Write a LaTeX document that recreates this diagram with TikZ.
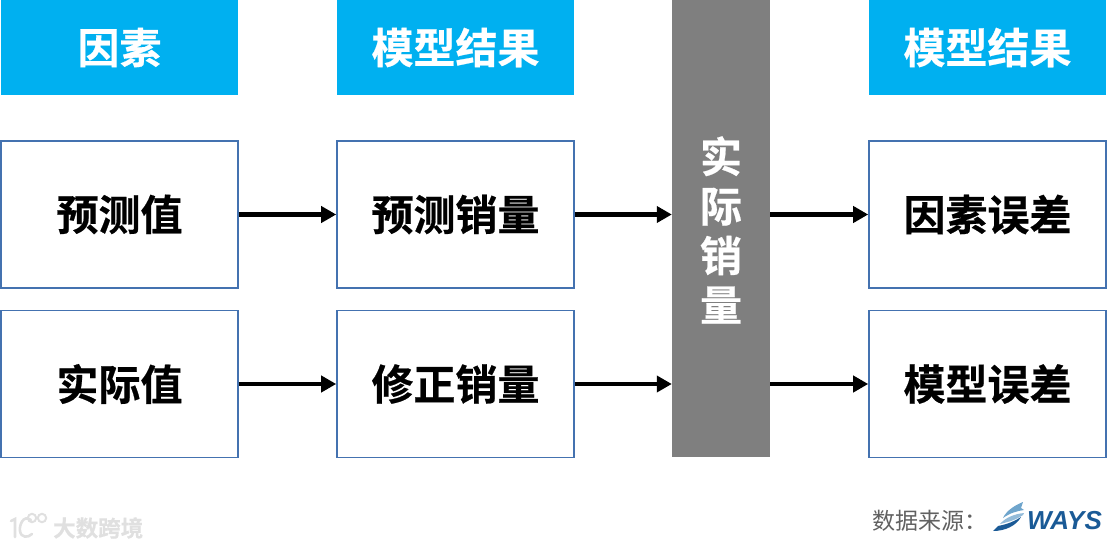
\documentclass[tikz,border=0pt]{standalone}
\usepackage{fontspec}
\setmainfont{Noto Sans CJK SC}[BoldFont={Noto Sans CJK SC Bold},BoldFeatures={FakeBold=0.5}]
\newfontfamily\latinbold{Liberation Sans}[BoldFeatures={FakeBold=0.8}]
\usetikzlibrary{arrows.meta}
\definecolor{headcyan}{HTML}{00B0F0}
\definecolor{boxblue}{HTML}{4472B0}
\definecolor{midgray}{HTML}{7F7F7F}
\definecolor{waysdark}{HTML}{1A5A96}
\definecolor{wayslight}{HTML}{6FA5CC}
\definecolor{wmgray}{HTML}{E0E0E0}
\tikzset{
 x=1pt,y=-1pt,
 headbox/.style={fill=headcyan,draw=none,minimum width=237pt,minimum height=95pt,inner sep=0pt,text=white,font=\fontsize{42}{42}\selectfont\bfseries},
 itembox/.style={fill=white,draw=boxblue,line width=1.6pt,minimum width=237pt,minimum height=147pt,inner sep=0pt,text=black,font=\fontsize{42}{42}\selectfont\bfseries},
 conn/.style={line width=4.4pt,-{Triangle[length=15pt,width=16pt]}},
 wm/.style={text=wmgray,inner sep=0pt,font=\fontsize{22.5}{22.5}\selectfont\bfseries},
 wmline/.style={draw=wmgray,line width=2.6pt,line cap=round},
 wmsmall/.style={draw=wmgray,line width=2pt},
}
\begin{document}
\begin{tikzpicture}
\useasboundingbox (0,0) rectangle (1107,548);
\node[headbox] (h1) at (119.5,47.5) {因素};
\node[headbox] (h2) at (455.5,47.5) {模型结果};
\node[headbox] (h3) at (987.5,47.5) {模型结果};
\node[itembox] (a1) at (119.5,214.5) {预测值};
\node[itembox] (a2) at (119.5,384) {实际值};
\node[itembox] (b1) at (455.5,214.5) {预测销量};
\node[itembox] (b2) at (455.5,384) {修正销量};
\node[itembox] (d1) at (987.5,214.5) {因素误差};
\node[itembox] (d2) at (987.5,384) {模型误差};
\node[fill=midgray,minimum width=98pt,minimum height=457pt,inner sep=0pt] (real) at (721,228.5) {};
\node[text=white,font=\fontsize{42}{49.5}\selectfont\bfseries,align=center,inner sep=0pt] (realtxt) at (721,230) {实\\际\\销\\量};
\draw[conn] (a1.east) -- (b1.west);
\draw[conn] (a2.east) -- (b2.west);
\draw[conn] (b1.east) -- (real.west |- b1.east);
\draw[conn] (b2.east) -- (real.west |- b2.east);
\draw[conn] (real.east |- d1.west) -- (d1.west);
\draw[conn] (real.east |- d2.west) -- (d2.west);
% source line
\node[text=black!62,inner sep=0pt,font=\fontsize{23}{23}\selectfont,anchor=west] (src) at (872,521) {数据来源：};
\fill[wayslight] (1023,502) .. controls (1015,505) and (1006,511) .. (1003,518) .. controls (1010,513) and (1017,511) .. (1024,510) -- (1021,508) -- cycle;
\fill[wayslight!75] (1024,513) .. controls (1014,514) and (1005,518) .. (1000,524) .. controls (1008,522) and (1016,520) .. (1023,515) -- cycle;
\fill[waysdark] (1021,517) .. controls (1012,523) and (1003,525) .. (998,526) -- (993,531) .. controls (1005,531) and (1016,526) .. (1021,517) -- cycle;
\node[text=waysdark,inner sep=0pt,anchor=west,font=\latinbold\fontsize{26}{26}\selectfont\bfseries\itshape] (ways) at (1027,521) {WAYS};
% watermark
\draw[wmline] (11,521) -- (15,519) -- (15,537);
\draw[wmline] (31,520) .. controls (23,514) and (19,526) .. (20,531) .. controls (21,538) and (28,538) .. (32,534);
\draw[wmsmall] (32,518) circle (4.2);
\draw[wmsmall] (42,518) circle (4.2);
\node[wm,anchor=west] (wm3) at (53,528) {大数跨境};
\end{tikzpicture}
\end{document}
